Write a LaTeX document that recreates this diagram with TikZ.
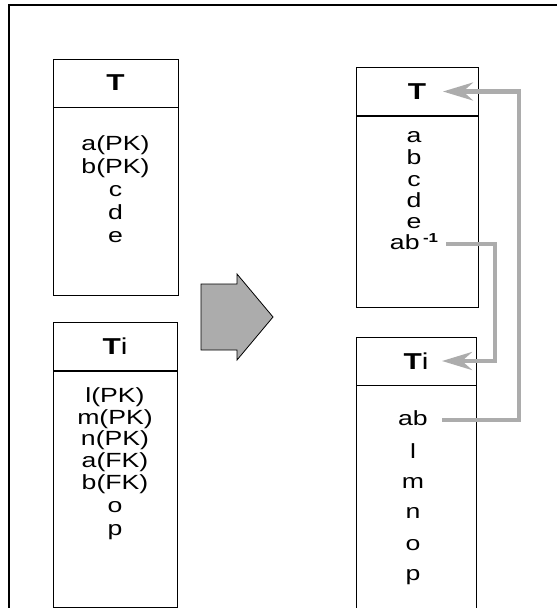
\documentclass[tikz,border=0pt]{standalone}
\usepackage{fontspec}
\setmainfont{Liberation Sans}[FakeStretch=1.3]
\usetikzlibrary{arrows.meta,positioning}

\begin{document}
\begin{tikzpicture}[
    x=1pt, y=-1pt,
    every node/.style={font=\fontsize{20.5}{22}\selectfont},
    hdr/.style={draw, minimum height=48pt, inner sep=0pt, font=\fontsize{23}{25}\selectfont\bfseries},
    body/.style={draw, anchor=north, inner sep=0pt},
    item/.style={inner sep=0pt, text height=10.5pt, text depth=0pt},
    link/.style={draw=gray!65, line width=4.5pt, -{Stealth[length=30pt,width=18pt,inset=10pt]}},
    bigarrow/.style={draw, thick, fill=gray!65}
]
\useasboundingbox (0,0) rectangle (557,608);
\draw[line width=2.5pt] (9,640) -- (9,5) -- (580,5);

% source tables
\node[hdr, minimum width=125pt] (lT) at (115.5,83) {T};
\node[body, minimum width=125pt, minimum height=188pt, below=0pt of lT] (lTbody) {};
\node[item] (lTa) at (115.5,145) {a(PK)};
\node[item] (lTb) at (115.5,168) {b(PK)};
\node[item] (lTc) at (115.5,191) {c};
\node[item] (lTd) at (115.5,214) {d};
\node[item] (lTe) at (115.5,237) {e};

\node[hdr, minimum width=124pt] (lTi) at (115,346.5) {T\mdseries i};
\node[body, minimum width=124pt, minimum height=236pt, below=0pt of lTi] (lTibody) {};
\foreach \txt/\y [count=\i] in {l(PK)/397, m(PK)/419, n(PK)/440, a(FK)/462, b(FK)/484, o/507, p/530}
    \node[item] (lTi\i) at (115,\y) {\txt};

% transformation
\draw[bigarrow] (201,284) -- (237,284) -- (237,274) -- (273,317) -- (237,360) -- (237,350) -- (201,350) -- cycle;

% result tables
\node[hdr, minimum width=122pt] (rT) at (417,91.5) {T};
\node[body, minimum width=122pt, minimum height=191pt, below=0pt of rT] (rTbody) {};
\foreach \txt/\y [count=\i] in {a/137, b/159, c/181, d/202, e/223}
    \node[item] (rT\i) at (414,\y) {\txt};
\node[item] (abinv) at (414,244) {ab\,\raisebox{7pt}{\fontsize{13}{13}\selectfont\bfseries -1}};

\node[hdr, minimum width=120pt] (rTi) at (416,361) {T\mdseries i};
\node[body, minimum width=120pt, minimum height=240pt, below=0pt of rTi] (rTibody) {};
\node[item] (ab) at (413,420) {ab};
\foreach \txt/\y [count=\i] in {l/453, m/483, n/513, o/545, p/575}
    \node[item] (rTi\i) at (413,\y) {\txt};

\draw[link, shorten >=26pt] ([xshift=14pt]ab.east) -| ([xshift=41pt]rT.east) -- (rT.center);
\draw[link, shorten >=26pt] ([xshift=8pt]abinv.east) -| ([xshift=19pt]rTi.east) -- (rTi.center);
\end{tikzpicture}
\end{document}
